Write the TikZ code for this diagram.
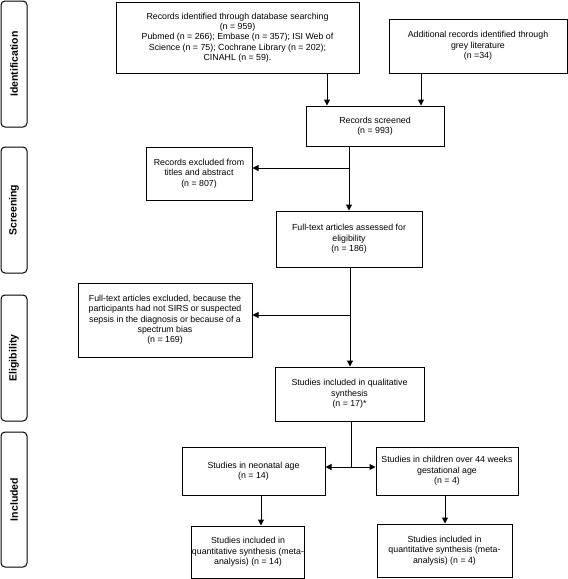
\documentclass[tikz,border=0pt]{standalone}
\usepackage{fontspec}
\setmainfont{Liberation Sans}
\usetikzlibrary{arrows.meta}
\begin{document}
\begin{tikzpicture}[x=1pt,y=-1pt,
  box/.style={draw,line width=1pt,align=center,inner sep=0pt,font=\fontsize{8.8}{10.3}\selectfont},
  phase/.style={draw,line width=1pt,rounded corners=4pt,minimum width=26pt,inner sep=0pt},
  phasetxt/.style={rotate=90,font=\fontsize{10.5}{12}\selectfont\bfseries},
  conn/.style={line width=1pt},
  arr/.style={line width=1pt,-{Triangle[length=6pt,width=6pt]}}]
\useasboundingbox (0,0) rectangle (568,579);
% phases
\node[phase,minimum height=126pt] (pid) at (14,64) {};
\node[phasetxt] (tid) at (pid.center) {Identification};
\node[phase,minimum height=126pt] (psc) at (14,210) {};
\node[phasetxt] (tsc) at (psc.center) {Screening};
\node[phase,minimum height=126pt] (pel) at (14,358) {};
\node[phasetxt] (tel) at (pel.center) {Eligibility};
\node[phase,minimum height=135pt] (pin) at (14,499.5) {};
\node[phasetxt] (tin) at (pin.center) {Included};
% boxes
\node[box,minimum width=243pt,minimum height=71pt] (b1) at (237.5,37.5)
  {Records identified through database searching\\(n = 959)\\Pubmed (n = 266); Embase (n = 357); ISI Web of\\Science (n = 75); Cochrane Library (n = 202);\\CINAHL (n = 59).};
\node[box,minimum width=178pt,minimum height=54pt] (b2) at (478,46)
  {Additional records identified through\\grey literature\\(n =34)};
\node[box,minimum width=138pt,minimum height=40pt] (b3) at (375,126)
  {Records screened\\(n = 993)};
\node[box,minimum width=106pt,minimum height=53pt] (ex1) at (199,173.5)
  {Records excluded from\\titles and abstract\\(n = 807)};
\node[box,minimum width=146pt,minimum height=56pt] (full) at (349,239)
  {Full-text articles assessed for\\eligibility\\(n = 186)};
\node[box,minimum width=174pt,minimum height=74pt] (ex2) at (165,320)
  {Full-text articles excluded, because the\\participants had not SIRS or suspected\\sepsis in the diagnosis or because of a\\spectrum bias\\(n = 169)};
\node[box,minimum width=149pt,minimum height=54pt] (qual) at (349.5,394)
  {Studies included in qualitative\\synthesis\\(n = 17)*};
\node[box,minimum width=143pt,minimum height=48pt] (neo) at (253.5,471)
  {Studies in neonatal age\\(n = 14)};
\node[box,minimum width=142pt,minimum height=48pt] (child) at (447,471)
  {Studies in children over 44 weeks\\gestational age\\(n = 4)};
\node[box,minimum width=113pt,minimum height=52pt] (q1) at (248,552)
  {Studies included in\\quantitative synthesis (meta-\\analysis) (n = 14)};
\node[box,minimum width=135pt,minimum height=53pt] (q2) at (444.5,550.5)
  {Studies included in\\quantitative synthesis (meta-\\analysis) (n = 4)};
% connectors
\draw[arr] (b1.south -| 327,0) -- (b3.north -| 327,0);
\draw[arr] (b2.south -| 421,0) -- (b3.north -| 421,0);
\coordinate (s1) at (349,168);
\draw[arr] (b3.south -| s1) -- (full.north -| s1);
\draw[arr] (s1) -- (ex1.east |- s1);
\coordinate (s2) at (350,315);
\draw[arr] (full.south -| s2) -- (qual.north -| s2);
\draw[arr] (s2) -- (ex2.east |- s2);
\coordinate (s3) at (351,467);
\draw[conn] (qual.south -| s3) -- (s3);
\draw[arr] (s3) -- (neo.east |- s3);
\draw[arr] (s3) -- (child.west |- s3);
\draw[arr] (neo.south -| 261,0) -- (q1.north -| 261,0);
\draw[arr] (child.south -| 445,0) -- (q2.north -| 445,0);
\end{tikzpicture}
\end{document}
